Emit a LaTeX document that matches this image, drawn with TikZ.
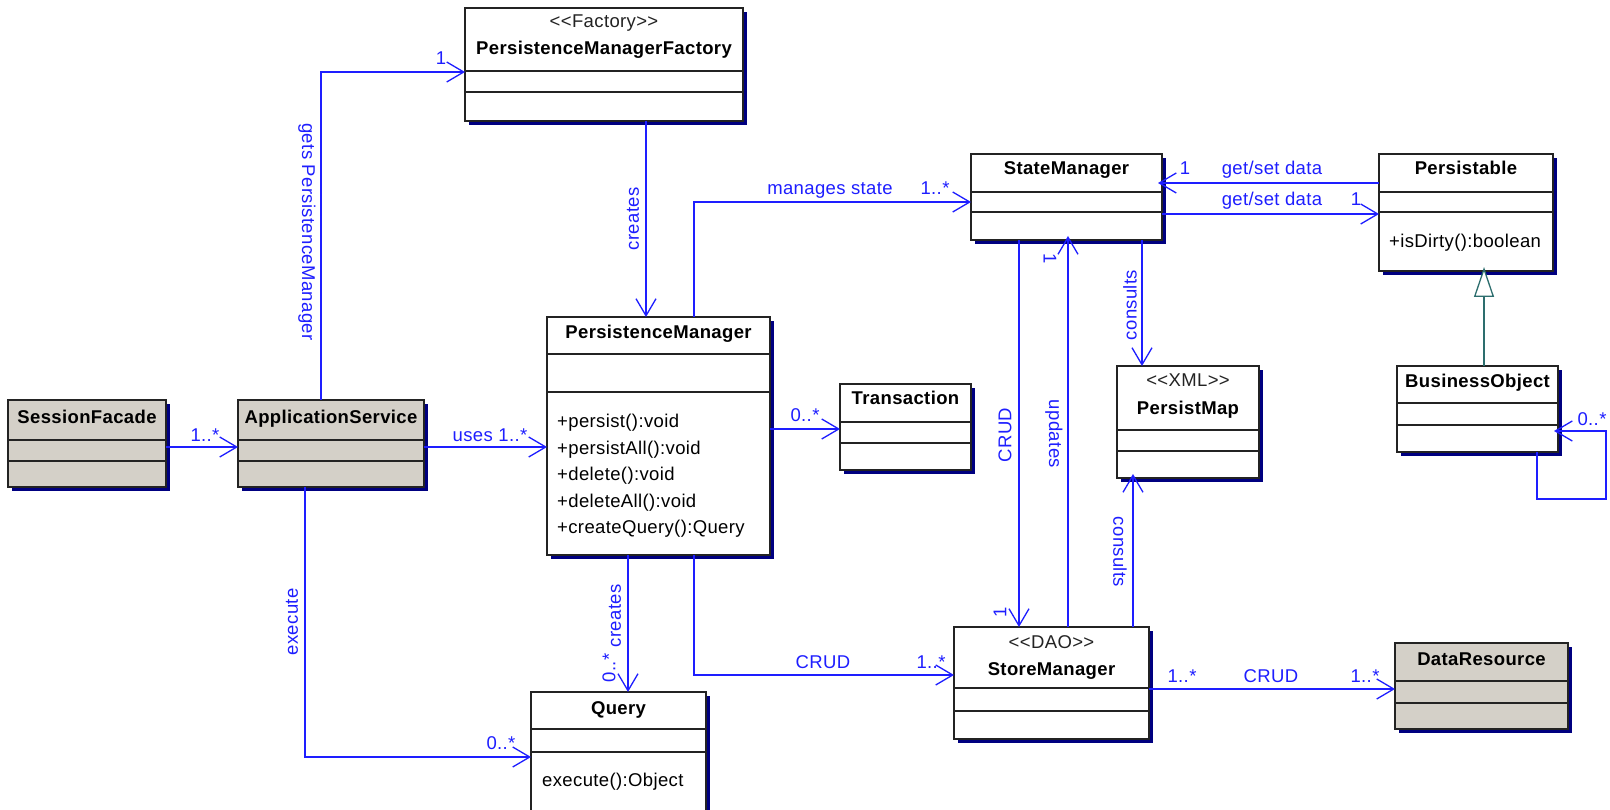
\documentclass[tikz,border=0pt]{standalone}
\usepackage{fontspec}
\setmainfont{Liberation Sans}[LetterSpace=2]
\usetikzlibrary{arrows.meta,shadows}
\definecolor{linkblue}{RGB}{30,30,255}
\definecolor{boxgray}{RGB}{212,208,200}
\definecolor{shadownavy}{RGB}{0,0,128}
\definecolor{boxline}{RGB}{35,35,35}
\definecolor{gencolor}{RGB}{45,110,110}
\newcommand\diagfont{\fontsize{18.5}{22}\selectfont}
\tikzset{
  cls/.style={draw=boxline, line width=1.7pt, inner sep=0pt, outer sep=0pt, anchor=north west,
    drop shadow={shadow xshift=4pt, shadow yshift=-4pt, fill=shadownavy, opacity=1}},
  divider/.style={draw=boxline, line width=1.7pt},
  cname/.style={font=\diagfont\bfseries, anchor=base, inner sep=0pt},
  cstereo/.style={font=\diagfont, anchor=base, inner sep=0pt, text=boxline},
  cmember/.style={font=\diagfont, anchor=base west, inner sep=0pt},
  link/.style={draw=linkblue, line width=1.3pt, -{Straight Barb[length=17pt,width=20pt]}},
  lbl/.style={font=\diagfont, text=linkblue, anchor=base, inner sep=0pt},
  vlbl/.style={font=\diagfont, text=linkblue, inner sep=0pt},
  gen/.style={draw=gencolor, line width=1.3pt, -{Triangle[open, length=30pt, width=20pt, fill=white]}},
}
% class box: name, x1, y1, x2, y2, fill, first divider, second divider
\newcommand\classbox[8]{%
  \node[cls, fill=#6, minimum width={#4pt-#2pt}, minimum height={#5pt-#3pt}] (#1) at (#2,#3) {};
  \draw[divider] (#1.west |- 0,#7) -- (#1.east |- 0,#7);
  \draw[divider] (#1.west |- 0,#8) -- (#1.east |- 0,#8);
}
\begin{document}
\begin{tikzpicture}[x=1pt, y=-1pt]
\clip (0,0) rectangle (1610,810);
\fill[white] (0,0) rectangle (1610,810);

% ---- classes ----
\classbox{sf}{8}{400}{166}{487}{boxgray}{440}{461}
\node[cname] (sfn) at (sf.north |- 0,423) {SessionFacade};

\classbox{as}{238}{400}{424}{487}{boxgray}{440}{461}
\node[cname] (asn) at (as.north |- 0,423) {ApplicationService};

\classbox{pmf}{465}{8}{743}{121}{white}{71}{92}
\node[cstereo] (pmfs) at (pmf.north |- 0,28) {{<}{<}Factory{>}{>}};
\node[cname] (pmfn) at (pmf.north |- 0,55) {PersistenceManagerFactory};

\classbox{pm}{547}{317}{770}{555}{white}{354}{392}
\node[cname] (pmn) at (pm.north |- 0,339) {PersistenceManager};
\node[cmember] (pm1) at (557,428) {+persist():void};
\node[cmember] (pm2) at (557,454) {+persistAll():void};
\node[cmember] (pm3) at (557,480) {+delete():void};
\node[cmember] (pm4) at (557,507) {+deleteAll():void};
\node[cmember] (pm5) at (557,533) {+createQuery():Query};

\classbox{tr}{840}{384}{971}{470}{white}{422}{443}
\node[cname] (trn) at (tr.north |- 0,405) {Transaction};

\classbox{q}{531}{692}{706}{840}{white}{729}{752}
\node[cname] (qn) at (q.north |- 0,714) {Query};
\node[cmember] (q1) at (542,786) {execute():Object};

\classbox{sm}{971}{154}{1162}{240}{white}{192}{212}
\node[cname] (smn) at (sm.north |- 0,175) {StateManager};

\classbox{p}{1379}{154}{1553}{271}{white}{192}{212}
\node[cname] (pn) at (p.north |- 0,175) {Persistable};
\node[cmember] (p1) at (1389,248) {+isDirty():boolean};

\classbox{bo}{1397}{366}{1558}{452}{white}{403}{425}
\node[cname] (bon) at (bo.north |- 0,388) {BusinessObject};

\classbox{pmap}{1117}{366}{1259}{478}{white}{430}{451}
\node[cstereo] (pmaps) at (pmap.north |- 0,387) {{<}{<}XML{>}{>}};
\node[cname] (pmapn) at (pmap.north |- 0,414) {PersistMap};

\classbox{stm}{954}{627}{1149}{739}{white}{688}{711}
\node[cstereo] (stms) at (stm.north |- 0,648) {{<}{<}DAO{>}{>}};
\node[cname] (stmn) at (stm.north |- 0,675) {StoreManager};

\classbox{dr}{1395}{643}{1568}{729}{boxgray}{681}{703}
\node[cname] (drn) at (dr.north |- 0,665) {DataResource};

% ---- bend points ----
\coordinate (bendPMF) at (321,72);
\coordinate (bendSM) at (694,202);
\coordinate (bendQ) at (305,757);
\coordinate (bendSTM) at (694,675);
\coordinate (loopA) at (1537,499);
\coordinate (loopB) at (1606,431);

% ---- associations ----
\draw[link] (sf.east |- 0,447) -- (as.west |- 0,447);
\node[lbl] (l1) at (205,441) {1..*};

\draw[link] (as.east |- 0,447) -- (pm.west |- 0,447);
\node[lbl] (l2) at (490,441) {uses 1..*};

\draw[link] (as.north -| bendPMF) |- (pmf.west |- bendPMF);
\node[lbl] (l3) at (441,65) {1};
\node[vlbl, rotate=-90] (l4) at (307,232) {gets PersistenceManager};

\draw[link] (pmf.south -| 646,0) -- (pm.north -| 646,0);
\node[vlbl, rotate=90] (l5) at (633,219) {creates};

\draw[link] (pm.north -| bendSM) |- (sm.west |- bendSM);
\node[lbl] (l6) at (830,195) {manages state};
\node[lbl] (l7) at (935,195) {1..*};

\draw[link] (pm.east |- 0,429) -- (tr.west |- 0,429);
\node[lbl] (l8) at (805,421) {0..*};

\draw[link] (pm.south -| 628,0) -- (q.north -| 628,0);
\node[vlbl, rotate=90] (l9) at (615,616) {creates};
\node[vlbl, rotate=90] (l10) at (609,668) {0..*};

\draw[link] (as.south -| bendQ) |- (q.west |- bendQ);
\node[vlbl, rotate=90] (l11) at (292,622) {execute};
\node[lbl] (l12) at (501,749) {0..*};

\draw[link] (pm.south -| bendSTM) |- (stm.west |- bendSTM);
\node[lbl] (l13) at (823,668) {CRUD};
\node[lbl] (l14) at (931,668) {1..*};

\draw[link] (sm.south -| 1019,0) -- (stm.north -| 1019,0);
\node[vlbl, rotate=90] (l15) at (1005,435) {CRUD};
\node[vlbl, rotate=90] (l16) at (1000,612) {1};

\draw[link, shorten >=-4pt] (stm.north -| 1068,0) -- (sm.south -| 1068,0);
\node[vlbl, rotate=-90] (l17) at (1054,434) {updates};
\node[vlbl, rotate=-90] (l18) at (1050,259) {1};

\draw[link] (sm.south -| 1142,0) -- (pmap.north -| 1142,0);
\node[vlbl, rotate=90] (l19) at (1130,305) {consults};

\draw[link, shorten >=-4pt] (stm.north -| 1133,0) -- (pmap.south -| 1133,0);
\node[vlbl, rotate=-90] (l20) at (1120,552) {consults};

\draw[link, shorten >=-4pt] (p.west |- 0,183) -- (sm.east |- 0,183);
\node[lbl] (l21) at (1272,175) {get/set data};
\node[lbl] (l22) at (1185,175) {1};

\draw[link] (sm.east |- 0,214) -- (p.west |- 0,214);
\node[lbl] (l23) at (1272,206) {get/set data};
\node[lbl] (l24) at (1356,206) {1};

\draw[gen, shorten >=-4pt] (bo.north -| 1484,0) -- (p.south -| 1484,0);

\draw[link, shorten >=-4pt] (bo.south -| loopA) -- (loopA) -| (loopB) -- (bo.east |- loopB);
\node[lbl] (l25) at (1592,425) {0..*};

\draw[link] (stm.east |- 0,689) -- (dr.west |- 0,689);
\node[lbl] (l26) at (1182,682) {1..*};
\node[lbl] (l27) at (1271,682) {CRUD};
\node[lbl] (l28) at (1365,682) {1..*};
\end{tikzpicture}
\end{document}
